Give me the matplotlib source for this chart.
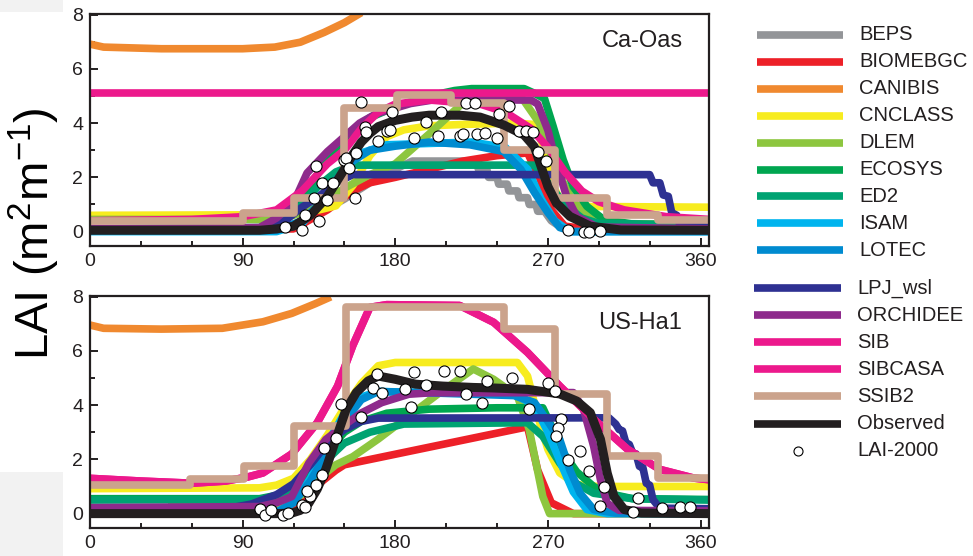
#!/usr/bin/env python
# seasonal LAI cycle, models vs observations at two flux sites

import numpy as np
import matplotlib.pyplot as plt
from matplotlib.patches import Rectangle
from matplotlib.lines import Line2D
from matplotlib.ticker import MultipleLocator

plt.rcParams['font.family'] = ['Liberation Sans', 'DejaVu Sans']
plt.rcParams['mathtext.default'] = 'regular'

models = ['BEPS', 'BIOMEBGC', 'CANIBIS', 'CNCLASS', 'DLEM', 'ECOSYS', 'ED2', 'ISAM', 'LOTEC',
          'LPJ_wsl', 'ORCHIDEE', 'SIB', 'SIBCASA', 'SSIB2']
colors = ['#939598', '#ED2028', '#F0892F', '#F7EC1F', '#8DC63F', '#00A650', '#00A372', '#00B4EE',
          '#008BD0', '#2E3192', '#8E2A8C', '#EC198C', '#EC198C', '#CBA38C']
obs_color = '#231F20'

# ---- Ca-Oas: (day of year, LAI) ----
oas_beps = [(0, 0.05), (110, 0.05), (130, 0.5), (150, 1.2), (165, 1.8), (180, 2.3), (190, 2.6), (228, 2.6),
            (229, 2.3), (234, 2.3), (235, 2.0), (240, 2.0), (241, 1.75), (246, 1.75), (247, 1.5),
            (252, 1.5), (253, 1.25), (258, 1.25), (259, 1.0), (263, 1.0), (264, 0.75), (268, 0.75),
            (272, 0.4), (278, 0.15), (288, 0.05), (365, 0.05)]
oas_biomebgc = [(0, 0.05), (120, 0.1), (140, 0.8), (155, 1.5), (165, 1.8), (180, 2.0), (200, 2.3),
                (220, 2.6), (240, 2.8), (258, 2.9), (265, 2.0), (272, 0.8), (280, 0.2), (300, 0.05), (365, 0.05)]
oas_canibis = [(0, 6.91), (8, 6.8), (42, 6.74), (90, 6.74), (109, 6.8), (124, 6.98), (138, 7.34),
               (150, 7.7), (160, 8.07)]
oas_cnclass = [(0, 0.6), (100, 0.62), (120, 0.7), (135, 0.8), (145, 0.95), (155, 1.7), (165, 2.8),
               (175, 3.5), (185, 3.75), (200, 3.9), (220, 3.95), (250, 4.0), (262, 3.95), (267, 3.2),
               (272, 1.8), (278, 1.1), (285, 0.93), (365, 0.9)]
oas_dlem = [(0, 0.45), (105, 0.45), (120, 0.6), (135, 0.95), (150, 1.6), (165, 2.1), (180, 2.5),
            (200, 3.6), (220, 4.75), (235, 5.0), (255, 4.9), (265, 4.0), (275, 2.3), (285, 1.1),
            (295, 0.5), (310, 0.3), (365, 0.25)]
oas_ecosys = [(0, 0.1), (100, 0.15), (115, 0.5), (125, 1.2), (135, 2.2), (145, 3.0), (155, 3.7),
              (165, 4.2), (180, 4.6), (200, 5.0), (215, 5.2), (225, 5.27), (256, 5.27), (262, 5.1),
              (268, 4.9), (273, 3.9), (279, 2.65), (285, 1.65), (293, 0.93), (303, 0.44), (322, 0.26),
              (365, 0.2)]
oas_ed2 = [(0, 0.1), (100, 0.1), (115, 0.4), (125, 1.0), (135, 1.7), (145, 2.2), (155, 2.45),
           (262, 2.45), (270, 1.8), (280, 1.0), (290, 0.5), (300, 0.3), (365, 0.25)]
oas_isam = [(0, 0.0), (110, 0.0), (125, 0.3), (140, 1.3), (150, 2.3), (160, 2.9), (175, 3.2),
            (225, 3.3), (245, 3.1), (258, 2.3), (266, 1.2), (274, 0.4), (283, 0.0), (365, 0.0)]
oas_lotec = [(0, 0.05), (110, 0.05), (125, 0.4), (135, 1.0), (145, 1.9), (155, 2.6), (165, 3.0),
             (180, 3.15), (200, 3.3), (224, 3.2), (244, 2.95), (254, 2.3), (262, 1.45), (270, 0.7),
             (277, 0.15), (285, 0.0), (365, 0.0)]
oas_lpj = [(0, 0.05), (100, 0.1), (115, 0.4), (125, 0.9), (135, 1.3), (145, 1.8), (155, 2.1),
           (330, 2.1), (332, 1.8), (336, 1.8), (338, 1.35), (341, 1.3), (343, 0.7), (346, 0.6),
           (348, 0.2), (365, 0.2)]
oas_orchidee = [(0, 0.1), (100, 0.15), (110, 0.5), (120, 1.06), (128, 2.16), (140, 2.95), (150, 3.5),
                (159, 4.0), (169, 4.35), (189, 4.72), (202, 4.85), (260, 4.85), (264, 4.7), (270, 3.74),
                (275, 2.52), (281, 1.3), (287, 0.56), (299, 0.17), (365, 0.1)]
oas_sib = [(0, 5.1), (365, 5.1)]
oas_sibcasa = [(0, 0.4), (60, 0.45), (90, 0.55), (110, 0.8), (125, 1.5), (140, 2.5), (150, 3.0),
               (160, 3.8), (170, 4.4), (180, 4.7), (200, 4.85), (230, 4.7), (245, 4.4), (260, 3.8),
               (270, 3.1), (280, 2.2), (290, 1.5), (300, 1.1), (315, 0.8), (340, 0.55), (365, 0.45)]
oas_ssib2_day = [0, 90, 120, 150, 181, 213, 244, 274, 305, 335, 365]
oas_ssib2_lai = [0.4, 0.68, 1.24, 4.55, 5.05, 4.73, 3.0, 1.25, 0.6, 0.42, 0.42]
oas_observed = [(0, 0.05), (100, 0.05), (110, 0.1), (120, 0.2), (130, 0.6), (140, 1.3), (145, 1.8),
                (150, 2.3), (155, 2.85), (160, 3.3), (165, 3.62), (170, 3.87), (180, 4.1), (190, 4.22),
                (200, 4.29), (218, 4.29), (230, 4.22), (244, 3.93), (256, 3.56), (262, 3.13),
                (266, 2.4), (270, 1.66), (275, 1.05), (283, 0.56), (295, 0.2), (313, 0.06), (365, 0.05)]
oas_lai2000_day = [115, 125, 127, 135, 133, 137, 143, 132, 140, 150, 151, 153, 157, 156, 160, 162, 163,
                   170, 175, 177, 178, 191, 198, 207, 205, 218, 220, 222, 227, 228, 233, 240, 241, 247,
                   253, 257, 261, 264, 269, 282, 291, 294, 301]
oas_lai2000 = [0.16, 0.07, 0.62, 0.38, 2.4, 1.79, 1.79, 1.24, 1.15, 2.64, 2.7, 2.36, 2.91, 1.24, 4.76,
               3.86, 3.68, 3.35, 3.71, 3.74, 4.41, 3.44, 4.05, 4.39, 3.53, 3.52, 3.58, 4.75, 4.75, 3.6,
               3.62, 3.46, 4.32, 4.64, 3.72, 3.71, 3.68, 2.95, 2.62, 0.07, 0.0, 0.0, 0.01]

# ---- US-Ha1: (day of year, LAI) ----
ha1_biomebgc = [(0, 0.0), (110, 0.0), (125, 0.5), (135, 1.1), (145, 1.6), (150, 1.8), (258, 3.2),
                (264, 1.6), (272, 0.4), (285, 0.0), (365, 0.0)]
ha1_canibis = [(0, 6.95), (8, 6.83), (42, 6.8), (78, 6.83), (102, 7.07), (119, 7.38), (133, 7.74),
               (142, 7.99)]
ha1_cnclass = [(0, 0.92), (100, 0.95), (110, 1.05), (120, 1.3), (130, 2.0), (140, 2.9), (150, 3.9),
               (160, 4.8), (170, 5.45), (180, 5.57), (252, 5.57), (258, 5.07), (264, 3.59), (270, 2.37),
               (277, 1.5), (287, 1.07), (300, 1.0), (365, 1.0)]
ha1_dlem = [(46, 0.25), (100, 0.25), (115, 0.35), (125, 0.7), (135, 1.3), (145, 1.8), (155, 2.1),
            (170, 2.75), (188, 3.6), (205, 4.4), (226, 5.33), (238, 4.95), (252, 4.33), (259, 3.1),
            (263, 1.86), (267, 0.63), (271, 0.0), (365, 0.0)]
ha1_ecosys = [(0, 0.55), (100, 0.55), (120, 0.8), (130, 1.5), (140, 2.3), (150, 3.0), (160, 3.4),
              (175, 3.7), (200, 3.85), (240, 3.9), (267, 3.9), (273, 3.1), (279, 2.25), (287, 1.54),
              (297, 1.0), (305, 0.75), (320, 0.55), (365, 0.52)]
ha1_ed2 = [(0, 0.5), (100, 0.52), (120, 0.75), (130, 1.3), (140, 2.0), (150, 2.6), (165, 3.0),
           (185, 3.3), (258, 3.35), (267, 2.85), (277, 1.86), (287, 1.1), (297, 0.75), (320, 0.55),
           (365, 0.5)]
ha1_isam = [(0, 0.05), (110, 0.05), (120, 0.4), (130, 1.3), (140, 2.6), (150, 3.7), (160, 4.3),
            (170, 4.5), (250, 4.4), (262, 4.0), (270, 3.0), (278, 1.8), (285, 0.8), (293, 0.15),
            (305, 0.0), (365, 0.0)]
ha1_lotec = [(0, 0.05), (110, 0.05), (120, 0.4), (130, 1.2), (140, 2.3), (150, 3.4), (160, 4.2),
             (170, 4.5), (200, 4.45), (250, 4.35), (262, 4.1), (270, 3.4), (277, 2.73), (283, 1.6),
             (289, 0.75), (297, 0.15), (310, 0.02), (365, 0.0)]
ha1_lpj = [(0, 0.18), (80, 0.18), (95, 0.35), (110, 0.7), (120, 1.1), (130, 1.8), (140, 2.6),
           (150, 3.1), (160, 3.4), (170, 3.52), (306, 3.53), (310, 3.3), (312, 3.1), (314, 3.05),
           (316, 2.6), (318, 2.55), (320, 2.23), (322, 2.2), (324, 1.74), (326, 1.7), (328, 1.12),
           (330, 1.05), (332, 0.51), (336, 0.2), (365, 0.18)]
ha1_orchidee = [(0, 0.22), (100, 0.26), (110, 0.4), (119, 0.63), (129, 1.86), (139, 2.73), (149, 3.22),
                (160, 3.71), (172, 4.09), (188, 4.4), (200, 4.45), (285, 4.46), (291, 3.84), (297, 2.48),
                (301, 1.25), (305, 0.38), (312, 0.12), (365, 0.1)]
ha1_sib = [(0, 1.3), (30, 1.2), (60, 1.12), (80, 1.2), (93, 1.35), (102, 1.5), (119, 2.2), (134, 3.35),
           (146, 4.7), (155, 6.2), (165, 7.6), (175, 7.7), (218, 7.67), (238, 7.05), (258, 5.94),
           (277, 4.7), (297, 3.48), (317, 2.37), (336, 1.63), (356, 1.31), (365, 1.25)]
ha1_sibcasa = [(0, 1.3), (30, 1.2), (60, 1.12), (80, 1.2), (93, 1.35), (102, 1.5), (119, 2.2),
               (134, 3.35), (146, 4.7), (155, 6.2), (165, 7.6), (175, 7.7), (218, 7.67), (238, 7.05),
               (258, 5.94), (277, 4.7), (297, 3.48), (317, 2.37), (336, 1.63), (356, 1.31), (365, 1.25)]
ha1_ssib2_day = [0, 59, 91, 120, 151, 244, 274, 305, 335, 365]
ha1_ssib2_lai = [1.05, 1.27, 1.74, 3.22, 7.6, 6.8, 4.41, 2.11, 1.31, 1.31]
ha1_observed = [(0, 0.0), (110, 0.0), (119, 0.02), (124, 0.12), (129, 0.38), (134, 0.9), (139, 1.63),
                (145, 2.74), (151, 3.84), (157, 4.46), (164, 4.89), (170, 5.07), (180, 4.95), (192, 4.77),
                (208, 4.7), (226, 4.65), (238, 4.63), (258, 4.58), (277, 4.41), (287, 4.15), (295, 3.72),
                (301, 2.74), (305, 1.49), (309, 0.63), (315, 0.15), (325, 0.02), (365, 0.0)]
ha1_lai2000_day = [100, 103, 107, 114, 117, 125, 127, 130, 128, 133, 137, 138, 145, 148, 160, 169, 167,
                   172, 186, 191, 189, 198, 209, 218, 222, 231, 234, 249, 259, 270, 274, 278, 276, 275,
                   282, 289, 294, 303, 301, 320, 323, 337, 348, 354]
ha1_lai2000 = [0.16, -0.05, 0.14, -0.05, 0.04, 0.32, 0.23, 0.65, 0.85, 1.04, 1.41, 2.42, 2.79, 4.03,
               3.57, 5.14, 4.64, 4.43, 4.6, 5.22, 3.93, 4.73, 5.26, 5.26, 4.4, 4.06, 4.89, 5.01, 3.86,
               4.8, 4.52, 3.47, 3.16, 2.85, 1.99, 2.3, 1.56, 0.97, 0.28, 0.07, 0.57, 0.22, 0.23, 0.23]

sites = [
    ('Ca-Oas',
     {'BEPS': oas_beps, 'BIOMEBGC': oas_biomebgc, 'CANIBIS': oas_canibis, 'CNCLASS': oas_cnclass,
      'DLEM': oas_dlem, 'ECOSYS': oas_ecosys, 'ED2': oas_ed2, 'ISAM': oas_isam, 'LOTEC': oas_lotec,
      'LPJ_wsl': oas_lpj, 'ORCHIDEE': oas_orchidee, 'SIB': oas_sib, 'SIBCASA': oas_sibcasa},
     (oas_ssib2_day, oas_ssib2_lai), oas_observed, (oas_lai2000_day, oas_lai2000)),
    ('US-Ha1',
     {'BIOMEBGC': ha1_biomebgc, 'CANIBIS': ha1_canibis, 'CNCLASS': ha1_cnclass, 'DLEM': ha1_dlem,
      'ECOSYS': ha1_ecosys, 'ED2': ha1_ed2, 'ISAM': ha1_isam, 'LOTEC': ha1_lotec, 'LPJ_wsl': ha1_lpj,
      'ORCHIDEE': ha1_orchidee, 'SIB': ha1_sib, 'SIBCASA': ha1_sibcasa},
     (ha1_ssib2_day, ha1_ssib2_lai), ha1_observed, (ha1_lai2000_day, ha1_lai2000)),
]

W, H = 973, 556
fig = plt.figure(figsize=(W / 100, H / 100), dpi=100)

# faint grey corners
fig.add_artist(Rectangle((0, 1 - 12 / H), 63 / W, 12 / H, transform=fig.transFigure,
                         color='#f2f2f2', lw=0, zorder=0))
fig.add_artist(Rectangle((0, 0), 63 / W, (H - 472) / H, transform=fig.transFigure,
                         color='#f2f2f2', lw=0, zorder=0))

LW = 5.5
panel_top = [14, 296]
for (site, runs, ssib2, observed, lai2000), top in zip(sites, panel_top):
    ax = fig.add_axes([90 / W, 1 - (top + 232) / H, 619 / W, 232 / H])
    for name, col in zip(models, colors):
        if name == 'SSIB2':
            ax.plot(ssib2[0], ssib2[1], color=col, lw=LW, drawstyle='steps-post',
                    solid_joinstyle='round', solid_capstyle='butt')
        elif name in runs:
            d, v = np.array(runs[name], dtype=float).T
            ax.plot(d, v, color=col, lw=LW, solid_joinstyle='round', solid_capstyle='butt')
    d, v = np.array(observed, dtype=float).T
    ax.plot(d, v, color=obs_color, lw=6.5, solid_joinstyle='round')
    ax.plot(lai2000[0], lai2000[1], 'o', ms=8, mfc='white', mec='black', mew=0.8)

    ax.set_xlim(0, 365)
    ax.set_ylim(-0.53, 8.02)
    ax.xaxis.set_major_locator(MultipleLocator(90))
    ax.xaxis.set_minor_locator(MultipleLocator(30))
    ax.yaxis.set_major_locator(MultipleLocator(2))
    ax.yaxis.set_minor_locator(MultipleLocator(1))
    ax.tick_params(which='both', direction='in', width=1.4, labelsize=14, colors='#231F20', pad=5)
    ax.tick_params(which='major', length=6)
    ax.tick_params(which='minor', length=3.5)
    for s in ax.spines.values():
        s.set_linewidth(1.6)
        s.set_color('#231F20')
    ax.text(0.957, 0.885, site, transform=ax.transAxes, ha='right', va='center',
            fontsize=17, color='#231F20')

fig.text(34 / W, 1 - 234 / H, 'LAI (m$^2$m$^{-1}$)', rotation=90, ha='center', va='center',
         fontsize=34, color='black')

# legend, drawn by hand in pixel space
lax = fig.add_axes([0, 0, 1, 1])
lax.set_xlim(0, W)
lax.set_ylim(H, 0)
lax.axis('off')
entries = list(zip(models, colors)) + [('Observed', obs_color)]
for i, (name, col) in enumerate(entries):
    if i < 9:
        y, x0, x1, tx = 35 + i * 26.9, 757, 843, 859
    else:
        y, x0, x1, tx = 288 + (i - 9) * 27.1, 754, 841, 857
    lax.add_line(Line2D([x0, x1], [y, y], color=col, lw=5.5, solid_capstyle='butt'))
    lax.text(tx, y, name, ha='left', va='center', fontsize=14.5, color='#231F20')
y = 288 + 6 * 27.1
lax.add_line(Line2D([798], [y], marker='o', ms=6.5, mfc='white', mec='black', mew=0.8, ls='none'))
lax.text(857, y, 'LAI-2000', ha='left', va='center', fontsize=14.5, color='#231F20')

fig.savefig('out.png', dpi=100)
